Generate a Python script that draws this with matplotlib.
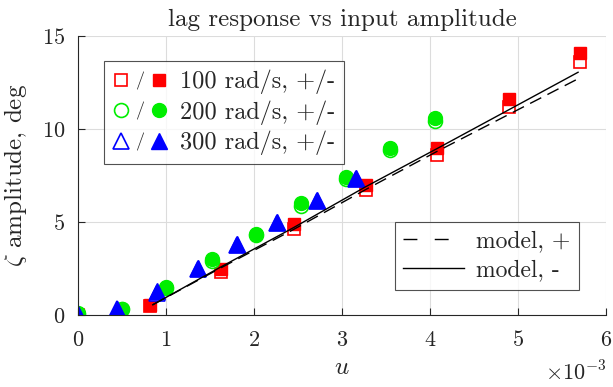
import numpy as np
import matplotlib
matplotlib.use("Agg")
import matplotlib.pyplot as plt
from matplotlib.lines import Line2D
from matplotlib.legend_handler import HandlerTuple

plt.rcParams["font.family"] = "serif"
plt.rcParams["font.serif"] = ["cmr10"]
plt.rcParams["mathtext.fontset"] = "cm"
plt.rcParams["axes.unicode_minus"] = False
plt.rcParams["axes.formatter.use_mathtext"] = True

# input amplitude u (x1e-3) and measured zeta amplitude (deg); "+" open, "-" filled
u_100 = [0.0, 0.82, 1.63, 2.45, 3.27, 4.08, 4.90, 5.70]
z_100_p = [0.0, 0.5, 2.3, 4.6, 6.7, 8.6, 11.2, 13.6]
z_100_m = [0.0, 0.55, 2.5, 4.9, 7.0, 9.0, 11.6, 14.1]

u_200 = [0.0, 0.50, 1.00, 1.52, 2.02, 2.53, 3.04, 3.55, 4.06]
z_200_p = [0.05, 0.3, 1.45, 2.9, 4.3, 5.85, 7.3, 8.85, 10.45]
z_200_m = [0.1, 0.35, 1.5, 3.0, 4.35, 6.0, 7.4, 9.0, 10.6]

u_300 = [0.0, 0.45, 0.90, 1.36, 1.81, 2.26, 2.71, 3.16]
z_300_p = [0.0, 0.3, 1.2, 2.5, 3.75, 4.95, 6.15, 7.3]
z_300_m = [0.05, 0.35, 1.3, 2.55, 3.8, 5.0, 6.2, 7.35]

u_model = [0.85, 1.63, 2.45, 3.27, 4.08, 4.90, 5.68]
z_model_p = [0.55, 2.55, 4.6, 6.75, 8.8, 10.8, 12.7]
z_model_m = [0.55, 2.6, 4.7, 6.9, 8.95, 11.05, 13.05]

x_ticks = [0, 1, 2, 3, 4, 5, 6]
y_ticks = [0, 5, 10, 15]

TXT = "#262626"
FS = 16
FL = 18
fig = plt.figure(figsize=(6.13, 3.87), dpi=100)
ax = fig.add_axes([0.127, 0.186, 0.862, 0.721])

series = [
    (u_100, z_100_p, z_100_m, "s", 8, "#ff0000", "100 rad/s, +/-"),
    (u_200, z_200_p, z_200_m, "o", 10, "#00ee00", "200 rad/s, +/-"),
    (u_300, z_300_p, z_300_m, "^", 11, "#0000ff", "300 rad/s, +/-"),
]
handles, labels = [], []
for u, zp, zm, mk, ms, col, lab in series:
    ho, = ax.plot(u, zp, mk, ms=ms, mfc="white", mec=col, mew=1.2, ls="none")
    hf, = ax.plot(u, zm, mk, ms=ms, mfc=col, mec=col, ls="none")
    slash = Line2D([], [], marker="$/$", ms=13, mew=0, color=TXT, ls="none")
    handles.append((ho, slash, hf))
    labels.append(lab)

l1, = ax.plot(u_model, z_model_p, color="black", lw=1, ls=(0, (9, 5)))
l2, = ax.plot(u_model, z_model_m, color="black", lw=1)

ax.set_xlim(0, 6)
ax.set_ylim(0, 15)
ax.set_xticks(x_ticks)
ax.set_yticks(y_ticks)
ax.grid(True, color="#dcdcdc", lw=0.8)
ax.set_axisbelow(True)
for s in ("top", "right"):
    ax.spines[s].set_visible(False)
for s in ("left", "bottom"):
    ax.spines[s].set_color(TXT)
ax.tick_params(direction="in", length=5, colors=TXT, labelsize=FS)
ax.tick_params(axis="x", pad=11)
ax.tick_params(axis="y", pad=9)
ax.text(1.0, -0.205, r"$\times10^{-3}$", transform=ax.transAxes, ha="right",
        va="center", fontsize=FS, color=TXT)

ax.set_title("lag response vs input amplitude", fontsize=FL, color=TXT, pad=7)
ax.set_xlabel("$u$", fontsize=FL, color=TXT, labelpad=5)
ax.set_ylabel(r"$\zeta$ amplitude, deg", fontsize=FL, color=TXT, labelpad=9)

leg1 = ax.legend(handles, labels, loc="upper left", bbox_to_anchor=(0.049, 0.91),
                 handler_map={tuple: HandlerTuple(ndivide=None, pad=0.05)},
                 fontsize=17.5, frameon=True, fancybox=False, edgecolor=TXT,
                 handlelength=2.3, handletextpad=0.5, borderpad=0.35,
                 labelspacing=0.25, borderaxespad=0)
leg1.get_frame().set_linewidth(0.8)
for t in leg1.get_texts():
    t.set_color(TXT)
ax.add_artist(leg1)

dash_proxy = Line2D([], [], color="black", lw=1, ls=(0, (10, 12.5)))
leg2 = ax.legend([dash_proxy, l2], ["model, +", "model, -"], loc="lower right",
                 bbox_to_anchor=(0.948, 0.09), fontsize=17, frameon=True,
                 fancybox=False, edgecolor=TXT, handlelength=2.6,
                 handletextpad=0.5, borderpad=0.35, labelspacing=0.3,
                 borderaxespad=0)
leg2.get_frame().set_linewidth(0.8)
for t in leg2.get_texts():
    t.set_color(TXT)

fig.savefig("out.png", dpi=100)
